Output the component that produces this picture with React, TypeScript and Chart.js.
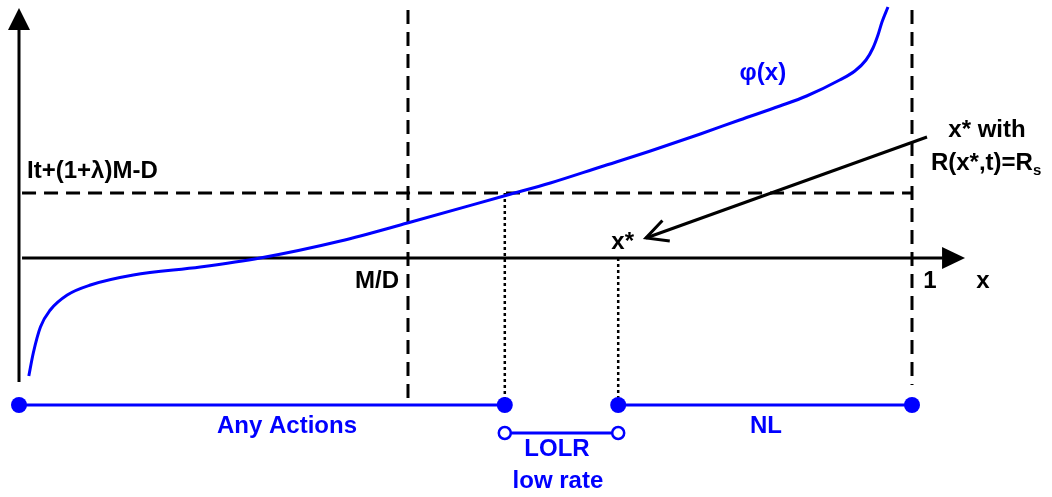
import React, { useEffect, useRef } from 'react';
import { Chart, registerables } from 'chart.js';

Chart.register(...registerables);

// φ(x) curve (x: 0..1 share, y: value in arbitrary units)
const phiX = [0.011, 0.016, 0.024, 0.035, 0.054, 0.08, 0.128, 0.203, 0.27, 0.36, 0.435, 0.547, 0.595, 0.651, 0.707, 0.763, 0.807, 0.852, 0.882, 0.919, 0.936, 0.9485, 0.9563, 0.9619, 0.9664, 0.9731];
const phiY = [-1.18, -0.95, -0.69, -0.52, -0.37, -0.27, -0.17, -0.09, 0.0, 0.17, 0.35, 0.63, 0.75, 0.91, 1.07, 1.24, 1.38, 1.52, 1.62, 1.78, 1.87, 1.98, 2.1, 2.23, 2.36, 2.51];

// key abscissae
const MD = 0.4356; // M/D
const X_LOW = 0.544; // φ(x) = It+(1+λ)M-D
const X_STAR = 0.671; // x*
const X_ONE = 1;
const LEVEL = 0.65; // It+(1+λ)M-D

// axis extents
const Y_AXIS_BOTTOM = -1.24;
const Y_AXIS_TOP = 2.5;
const X_AXIS_END = 1.0594;
const DASH_TOP = 2.48;
const MD_DASH_BOTTOM = -1.47;
const ONE_DASH_BOTTOM = -1.27;
const DOT_BOTTOM = -1.4;

// interval bands
const BAND_Y = -1.47;
const LOLR_Y = -1.75;
const bandNames = ['Any Actions', 'LOLR', 'NL'];
const bandStart = [0, X_LOW, X_STAR];
const bandEnd = [X_LOW, X_STAR, X_ONE];

// pointer arrow (from label towards x*)
const arrowFrom = { x: 1.0168, y: 1.21 };
const arrowTo = { x: 0.7021, y: 0.2 };

const X_MIN = -19 / 893;
const X_MAX = 1033 / 893;
const Y_MIN = -2.39;
const Y_MAX = 2.58;

const FONT = 'bold 24px "Liberation Sans", Arial, sans-serif';
const SUB_FONT = 'bold 15px "Liberation Sans", Arial, sans-serif';
const BLUE = '#0000ff';

type Lbl = { text: string; x: number; y: number; align: CanvasTextAlign; color: string; sub?: string };
const labels: Lbl[] = [
  { text: 'It+(1+λ)M-D', x: 0.009, y: 0.8, align: 'left', color: '#000' },
  { text: 'M/D', x: 0.4255, y: -0.3, align: 'right', color: '#000' },
  { text: '1', x: 1.0202, y: -0.3, align: 'center', color: '#000' },
  { text: 'x', x: 1.0795, y: -0.3, align: 'center', color: '#000' },
  { text: 'x*', x: 0.676, y: 0.09, align: 'center', color: '#000' },
  { text: 'x* with', x: 1.084, y: 1.21, align: 'center', color: '#000' },
  { text: 'R(x*,t)=R', sub: 's', x: 1.083, y: 0.88, align: 'center', color: '#000' },
  { text: 'φ(x)', x: 0.833, y: 1.78, align: 'center', color: BLUE },
  { text: bandNames[0], x: 0.3001, y: -1.75, align: 'center', color: BLUE },
  { text: bandNames[2], x: 0.8365, y: -1.75, align: 'center', color: BLUE },
  { text: bandNames[1], x: 0.6025, y: -1.98, align: 'center', color: BLUE },
  { text: 'low rate', x: 0.6035, y: -2.3, align: 'center', color: BLUE },
];

const seg = (pts: { x: number; y: number }[], extra: any = {}) => ({
  data: pts,
  showLine: true,
  pointRadius: 0,
  borderColor: '#000',
  borderWidth: 3,
  fill: false,
  tension: 0,
  borderCapStyle: 'butt',
  ...extra,
});

const drawPlugin = {
  id: 'schematic',
  afterDatasetsDraw(chart: any) {
    const { ctx, scales } = chart;
    const xs = scales.x;
    const ys = scales.y;
    const px = (v: number) => xs.getPixelForValue(v);
    const py = (v: number) => ys.getPixelForValue(v);
    ctx.save();
    // y-axis arrowhead
    const yt = { x: px(0), y: py(Y_AXIS_TOP) };
    ctx.fillStyle = '#000';
    ctx.beginPath();
    ctx.moveTo(yt.x, yt.y);
    ctx.lineTo(yt.x - 11, yt.y + 22);
    ctx.lineTo(yt.x + 11, yt.y + 22);
    ctx.closePath();
    ctx.fill();
    // x-axis arrowhead
    const xt = { x: px(X_AXIS_END), y: py(0) };
    ctx.beginPath();
    ctx.moveTo(xt.x, xt.y);
    ctx.lineTo(xt.x - 23, xt.y - 11);
    ctx.lineTo(xt.x - 23, xt.y + 11);
    ctx.closePath();
    ctx.fill();
    // pointer arrowhead (open V)
    const tip = { x: px(arrowTo.x), y: py(arrowTo.y) };
    const from = { x: px(arrowFrom.x), y: py(arrowFrom.y) };
    const ang = Math.atan2(from.y - tip.y, from.x - tip.x);
    const L = 24;
    const spread = (27 * Math.PI) / 180;
    ctx.strokeStyle = '#000';
    ctx.lineWidth = 3;
    ctx.lineCap = 'butt';
    ctx.lineJoin = 'miter';
    ctx.beginPath();
    ctx.moveTo(tip.x + L * Math.cos(ang - spread), tip.y + L * Math.sin(ang - spread));
    ctx.lineTo(tip.x, tip.y);
    ctx.lineTo(tip.x + L * Math.cos(ang + spread), tip.y + L * Math.sin(ang + spread));
    ctx.stroke();
    // labels
    ctx.textBaseline = 'alphabetic';
    for (const l of labels) {
      ctx.font = FONT;
      ctx.fillStyle = l.color;
      const x = px(l.x);
      const y = py(l.y);
      if (l.sub) {
        const w1 = ctx.measureText(l.text).width;
        ctx.font = SUB_FONT;
        const w2 = ctx.measureText(l.sub).width;
        const start = x - (w1 + w2) / 2;
        ctx.textAlign = 'left';
        ctx.font = FONT;
        ctx.fillText(l.text, start, y);
        ctx.font = SUB_FONT;
        ctx.fillText(l.sub, start + w1, y + 5);
      } else {
        ctx.textAlign = l.align;
        ctx.fillText(l.text, x, y);
      }
    }
    ctx.restore();
  },
};

export default function App() {
  const ref = useRef<HTMLCanvasElement>(null);
  useEffect(() => {
    const canvas = ref.current;
    if (!canvas) return;
    const phi = phiX.map((x, i) => ({ x, y: phiY[i] }));
    const dashed = { borderDash: [14, 8] };
    const dotted = { borderDash: [3, 3], borderWidth: 2.5 };
    const chart = new Chart(canvas, {
      type: 'scatter',
      data: {
        datasets: [
          seg(phi, { borderColor: BLUE, borderWidth: 3, tension: 0, cubicInterpolationMode: 'monotone' }),
          // bands
          seg(
            [
              { x: bandStart[0], y: BAND_Y },
              { x: bandEnd[0], y: BAND_Y },
            ],
            { borderColor: BLUE, borderWidth: 3, pointRadius: 8, pointBackgroundColor: BLUE, pointBorderColor: BLUE, pointBorderWidth: 0 }
          ),
          seg(
            [
              { x: bandStart[1], y: LOLR_Y },
              { x: bandEnd[1], y: LOLR_Y },
            ],
            { borderColor: BLUE, borderWidth: 3, pointRadius: 6, pointBackgroundColor: '#fff', pointBorderColor: BLUE, pointBorderWidth: 2.5 }
          ),
          seg(
            [
              { x: bandStart[2], y: BAND_Y },
              { x: bandEnd[2], y: BAND_Y },
            ],
            { borderColor: BLUE, borderWidth: 3, pointRadius: 8, pointBackgroundColor: BLUE, pointBorderColor: BLUE, pointBorderWidth: 0 }
          ),
          // pointer arrow shaft
          seg([arrowFrom, arrowTo], { borderWidth: 3 }),
          // axes
          seg([
            { x: 0, y: Y_AXIS_BOTTOM },
            { x: 0, y: Y_AXIS_TOP - 0.2 },
          ]),
          seg([
            { x: 0.0034, y: 0 },
            { x: X_AXIS_END - 0.025, y: 0 },
          ]),
          // dashed guides
          seg(
            [
              { x: 0.0034, y: LEVEL },
              { x: X_ONE, y: LEVEL },
            ],
            dashed
          ),
          seg(
            [
              { x: MD, y: DASH_TOP },
              { x: MD, y: MD_DASH_BOTTOM },
            ],
            dashed
          ),
          seg(
            [
              { x: X_ONE, y: DASH_TOP },
              { x: X_ONE, y: ONE_DASH_BOTTOM },
            ],
            dashed
          ),
          // dotted drops
          seg(
            [
              { x: X_LOW, y: LEVEL },
              { x: X_LOW, y: DOT_BOTTOM },
            ],
            dotted
          ),
          seg(
            [
              { x: X_STAR, y: 0 },
              { x: X_STAR, y: DOT_BOTTOM },
            ],
            dotted
          ),
        ] as any,
      },
      options: {
        animation: false,
        responsive: false,
        devicePixelRatio: 1,
        events: [],
        layout: { padding: 0, autoPadding: false },
        plugins: { legend: { display: false }, tooltip: { enabled: false }, title: { display: false } },
        scales: {
          x: { type: 'linear', min: X_MIN, max: X_MAX, display: false },
          y: { type: 'linear', min: Y_MIN, max: Y_MAX, display: false },
        },
      },
      plugins: [drawPlugin],
    });
    return () => chart.destroy();
  }, []);
  return (
    <div style={{ position: 'fixed', left: 0, top: 0, width: 1052, height: 497, background: '#fff' }}>
      <canvas ref={ref} width={1052} height={497} style={{ display: 'block' }} />
    </div>
  );
}
